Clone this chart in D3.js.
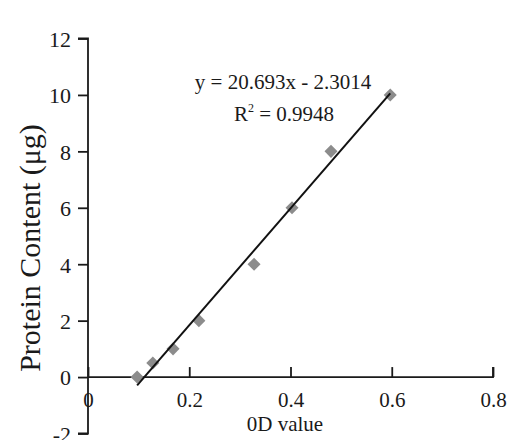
<!DOCTYPE html>
<html lang="en">
<head>
<meta charset="UTF-8">
<title>Protein standard curve</title>
<script src="https://d3js.org/d3.v7.min.js"></script>
<style>
  body { margin: 0; background: #fff; }
  text { font-family: "Palatino Linotype", "Book Antiqua", Palatino, "Liberation Serif", serif; fill: #1a1a1a; }
</style>
</head>
<body>
<script>
    // data
    var odValues = [0.097, 0.128, 0.168, 0.219, 0.328, 0.403, 0.480, 0.597];
    var protein = [0, 0.5, 1, 2, 4, 6, 8, 10];
    var xTicks = [0, 0.2, 0.4, 0.6, 0.8];
    var yTicks = [-2, 0, 2, 4, 6, 8, 10, 12];
    var slope = 20.693, intercept = -2.3014;
    var eqLines = ["y = 20.693x - 2.3014", "R2 = 0.9948"];

    var width = 510, height = 440;
    var svg = d3.select("body").append("svg")
        .attr("width", width)
        .attr("height", height);

    var x = d3.scaleLinear().domain([0, 0.8]).range([88, 493]);
    var y = d3.scaleLinear().domain([-2, 12]).range([433.5, 38.5]);

    // y axis
    var yAxis = svg.append("g")
        .attr("transform", "translate(" + x(0) + ",0)")
        .call(d3.axisLeft(y).tickValues(yTicks).tickSize(10).tickPadding(7)
            .tickFormat(function (d) { return d; }));
    yAxis.select(".domain").attr("d", "M-10," + y(12) + "H0V" + y(-2) + "H-10")
        .attr("stroke", "#1a1a1a").attr("stroke-width", 1.8);
    yAxis.selectAll(".tick line").attr("stroke", "#1a1a1a").attr("stroke-width", 1.8);
    yAxis.selectAll(".tick text").attr("font-size", 22).attr("dy", "0.36em");

    // x axis (sits on y = 0, ticks point up)
    var xAxis = svg.append("g")
        .attr("transform", "translate(0," + y(0) + ")")
        .call(d3.axisBottom(x).tickValues(xTicks).tickSize(-10)
            .tickFormat(function (d) { return d; }));
    xAxis.select(".domain").attr("d", "M" + x(0) + ",0H" + x(0.8) + "V-10")
        .attr("stroke", "#1a1a1a").attr("stroke-width", 1.8);
    xAxis.selectAll(".tick line").attr("stroke", "#1a1a1a").attr("stroke-width", 1.8);
    xAxis.selectAll(".tick text").attr("font-size", 21).attr("y", 30).attr("dy", 0);

    // axis titles
    svg.append("text")
        .attr("x", 285).attr("y", 431)
        .attr("text-anchor", "middle")
        .attr("font-size", 21)
        .text("0D value");

    svg.append("text")
        .attr("transform", "translate(40,248) rotate(-90)")
        .attr("text-anchor", "middle")
        .attr("font-size", 30)
        .text("Protein Content (\u03bcg)");

    // points
    var pts = d3.zip(odValues, protein);
    svg.append("g").selectAll("path")
        .data(pts)
        .enter()
        .append("path")
        .attr("d", d3.symbol().type(d3.symbolSquare).size(85))
        .attr("transform", function (d) {
            return "translate(" + x(d[0]) + "," + y(d[1]) + ") rotate(45)";
        })
        .attr("fill", "#8c8c8c");

    // trendline over data range
    var xMin = d3.min(odValues), xMax = d3.max(odValues);
    svg.append("line")
        .attr("x1", x(xMin)).attr("y1", y(slope * xMin + intercept))
        .attr("x2", x(xMax)).attr("y2", y(slope * xMax + intercept))
        .attr("stroke", "#111")
        .attr("stroke-width", 2);

    // equation
    svg.append("text")
        .attr("x", 283).attr("y", 89)
        .attr("text-anchor", "middle")
        .attr("font-size", 21)
        .text(eqLines[0]);
    var r2 = svg.append("text")
        .attr("x", 284).attr("y", 121)
        .attr("text-anchor", "middle")
        .attr("font-size", 21);
    r2.append("tspan").text("R");
    r2.append("tspan").attr("dy", -9).attr("font-size", 12).text("2");
    r2.append("tspan").attr("dy", 9).text(" = 0.9948");
</script>
</body>
</html>
